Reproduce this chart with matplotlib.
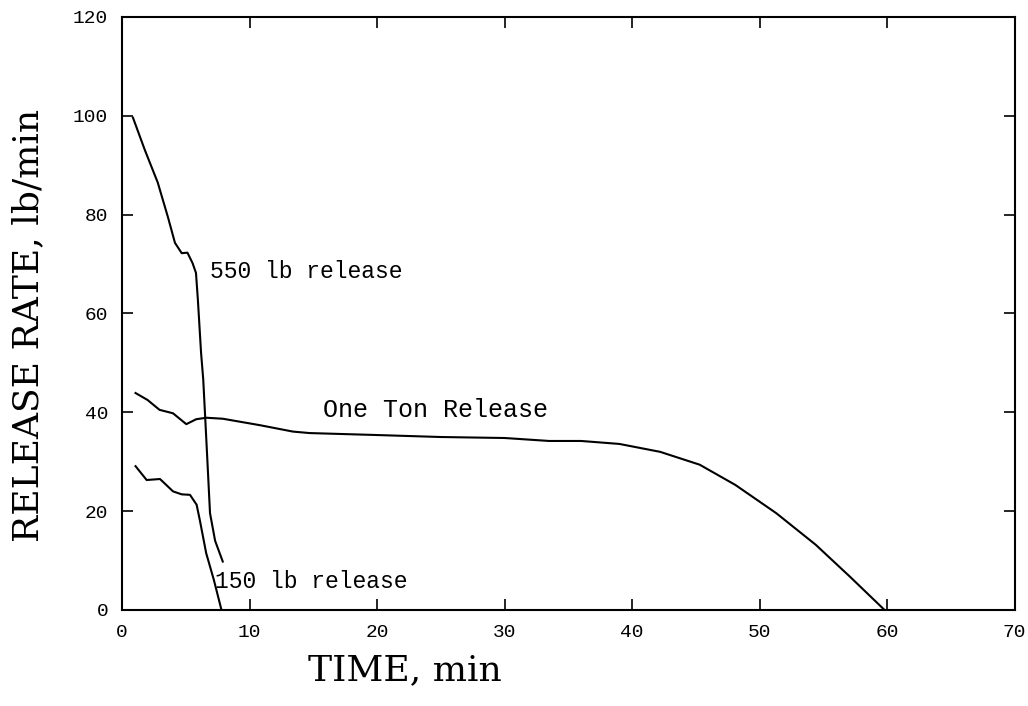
import numpy as np
import matplotlib.pyplot as plt

# 550 lb release
t_550 = [0.86, 1.8, 2.8, 3.6, 4.15, 4.68, 5.13, 5.53, 5.8, 5.95, 6.2, 6.37, 6.64, 6.9, 7.3, 7.9]
r_550 = [99.6, 93.0, 86.5, 79.5, 74.3, 72.2, 72.3, 70.2, 68.2, 62.7, 52.0, 46.6, 33.0, 19.6, 14.0, 9.8]

# one ton release
t_ton = [1.06, 2.0, 2.94, 4.0, 5.04, 5.82, 6.6, 7.9, 10.8, 13.4, 14.7, 20.0, 25.0, 30.0,
         33.5, 36.0, 39.0, 42.2, 45.3, 48.1, 51.3, 54.4, 57.1, 59.8]
r_ton = [43.9, 42.5, 40.5, 39.8, 37.6, 38.6, 38.9, 38.7, 37.4, 36.1, 35.8, 35.4, 35.0, 34.8,
         34.2, 34.2, 33.6, 32.0, 29.4, 25.3, 19.6, 13.2, 6.7, 0.0]

# 150 lb release
t_150 = [1.06, 1.93, 2.98, 4.0, 4.68, 5.33, 5.85, 6.1, 6.6, 7.2, 7.8]
r_150 = [29.1, 26.3, 26.5, 24.0, 23.4, 23.3, 21.3, 18.2, 11.5, 6.1, 0.0]

fig = plt.figure(figsize=(10.28, 7.06), dpi=100)
ax = fig.add_axes([0.1187, 0.136, 0.8683, 0.840])

for t, r in [(t_550, r_550), (t_ton, r_ton), (t_150, r_150)]:
    ax.plot(t, r, color='black', lw=1.5)

mono = 'Liberation Mono'
ax.text(6.9, 68.4, '550 lb release', family=mono, fontsize=16.6, va='center')
ax.text(15.75, 40.5, 'One Ton Release', family=mono, fontsize=18, va='center')
ax.text(7.3, 5.7, '150 lb release', family=mono, fontsize=16.6, va='center')

ax.set_xlim(0, 70)
ax.set_ylim(0, 120)
ax.set_xticks(np.arange(0, 71, 10))
ax.set_yticks(np.arange(0, 121, 20))
ax.tick_params(direction='in', length=8, width=1.2, top=True, right=True, labelsize=14, pad=10)
for lab in ax.get_xticklabels() + ax.get_yticklabels():
    lab.set_family(mono)
for s in ax.spines.values():
    s.set_linewidth(1.5)

ax.set_xlabel('TIME, min', family='DejaVu Serif', fontsize=26)
ax.xaxis.set_label_coords(0.317, -0.073)
ax.set_ylabel('RELEASE RATE, lb/min', family='DejaVu Serif', fontsize=26)
ax.yaxis.set_label_coords(-0.086, 0.48)

fig.savefig('out.png', dpi=100)
